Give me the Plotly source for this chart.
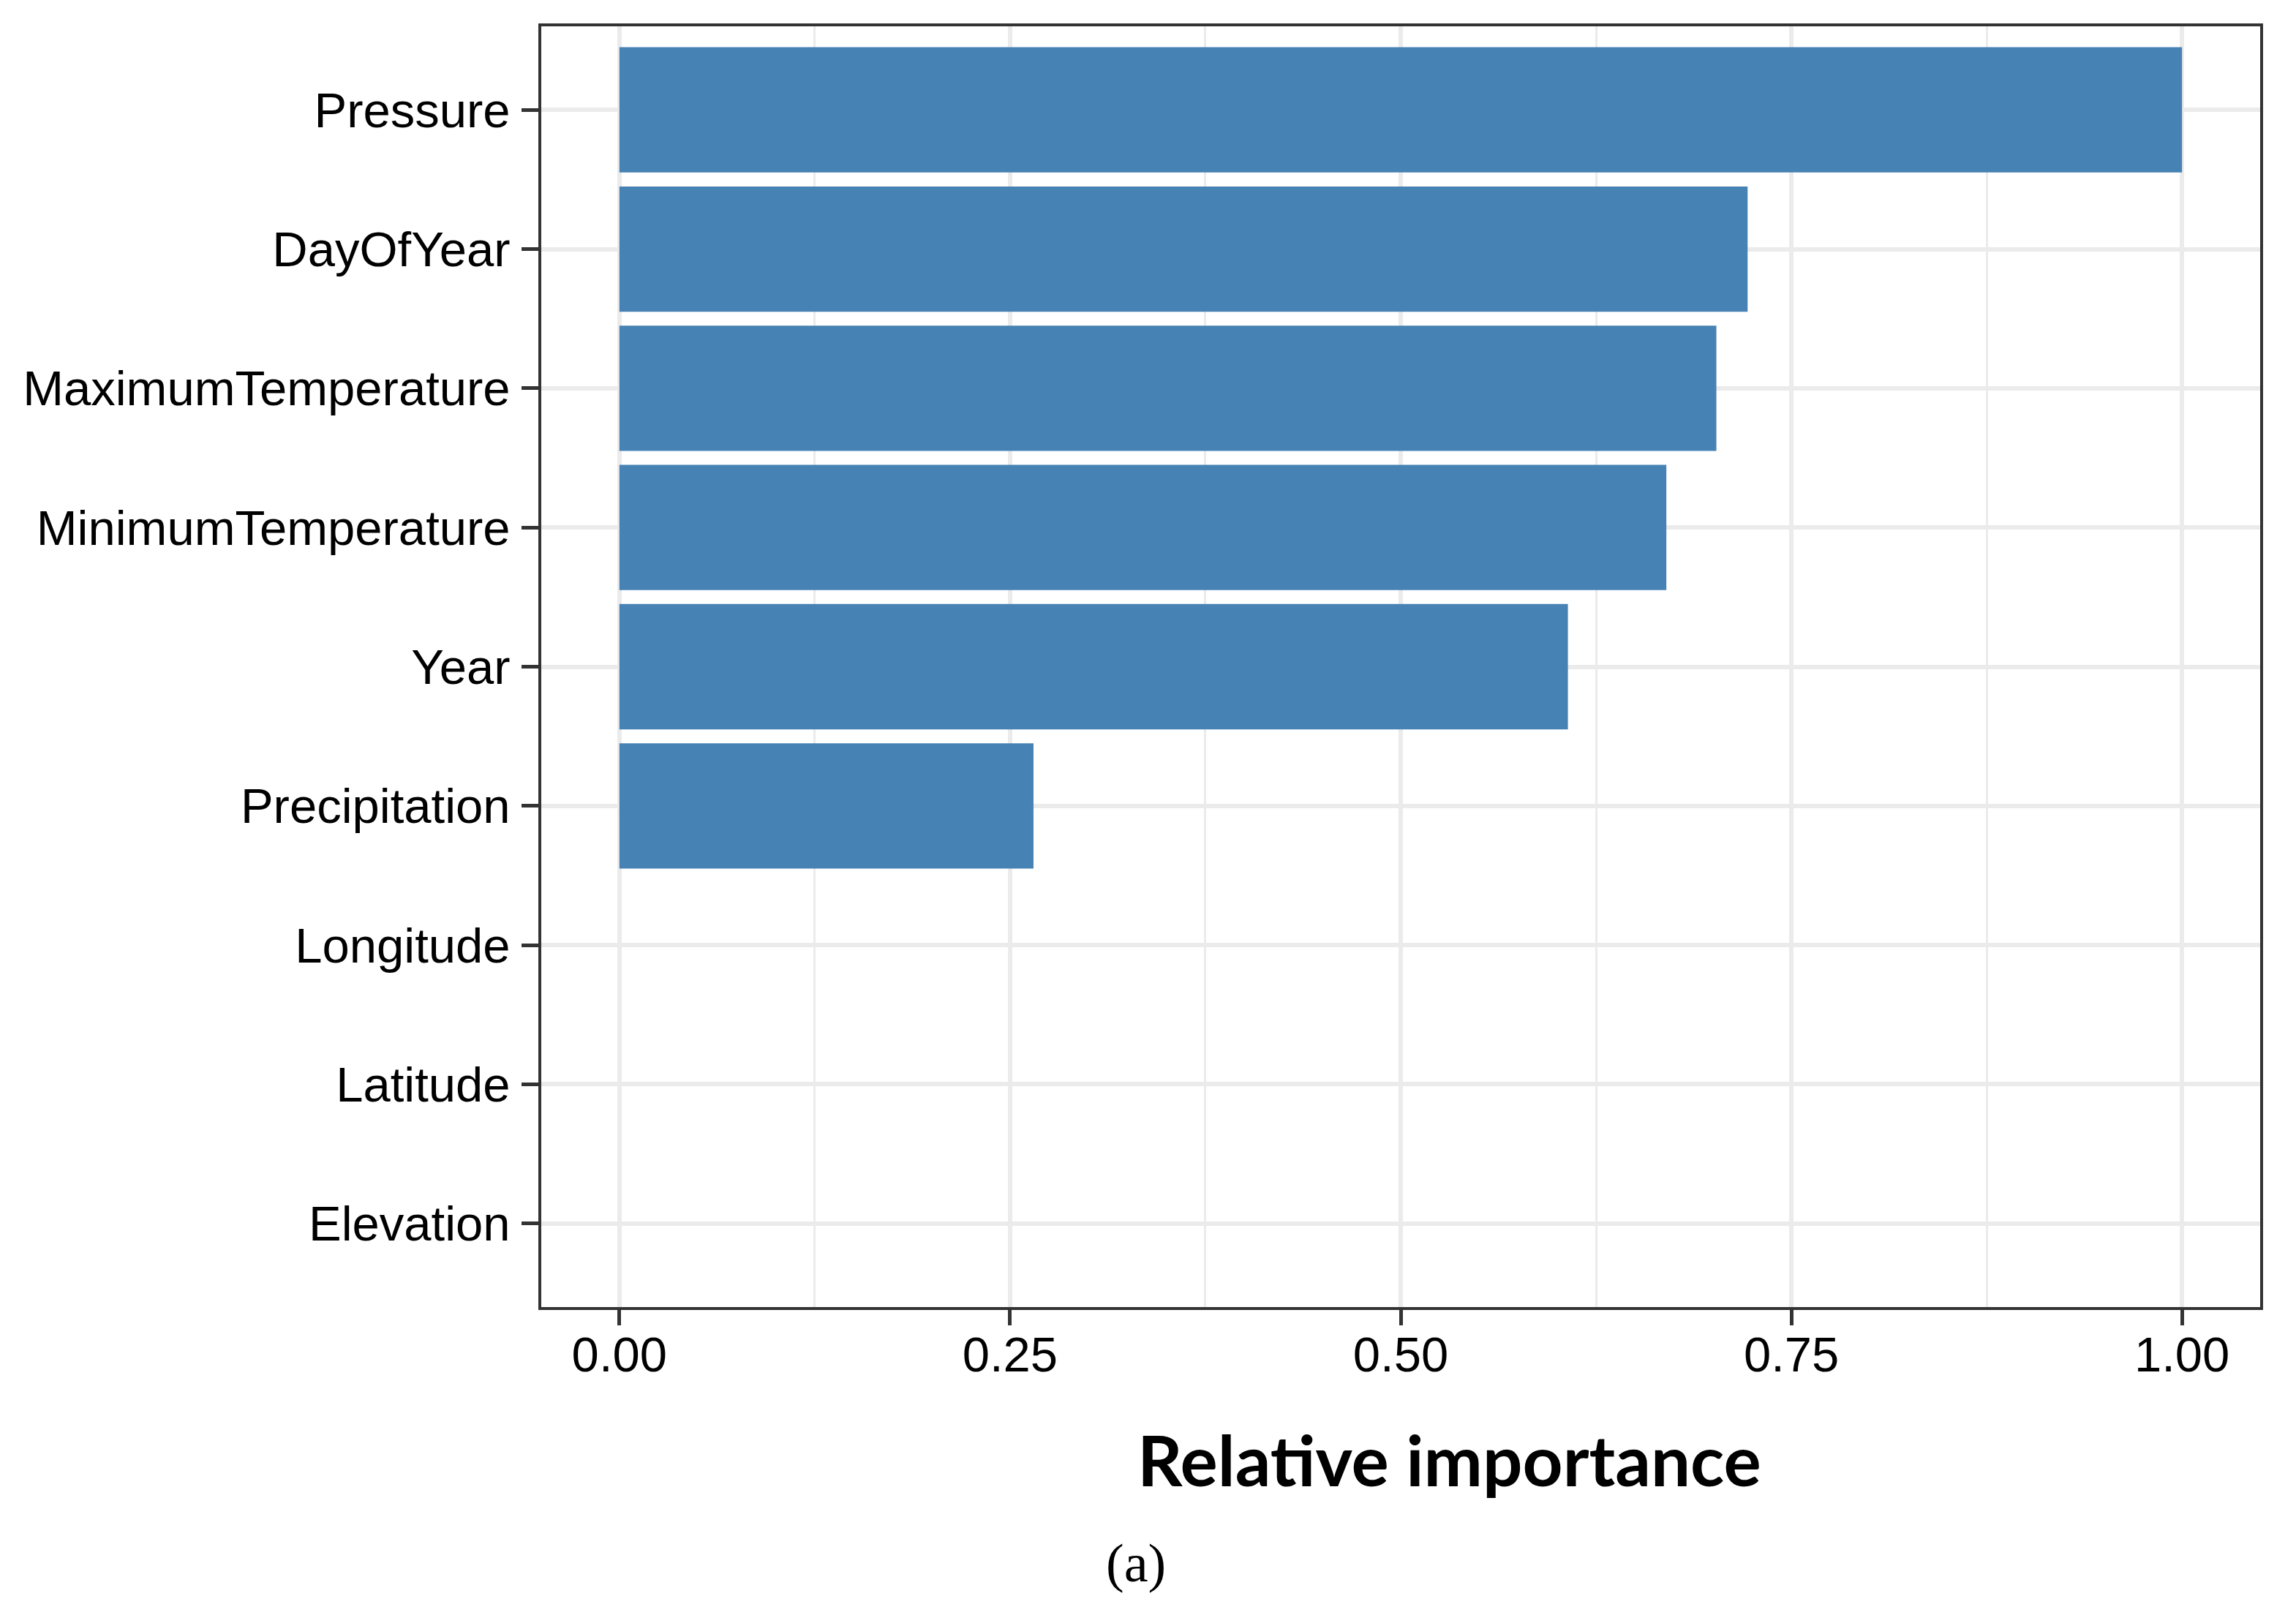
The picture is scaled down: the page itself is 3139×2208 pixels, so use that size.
import plotly.graph_objects as go

# Data (top-to-bottom order as displayed)
features = ["Pressure", "DayOfYear", "MaximumTemperature", "MinimumTemperature",
            "Year", "Precipitation", "Longitude", "Latitude", "Elevation"]
importance = [1.00, 0.722, 0.702, 0.670, 0.607, 0.265, 0.0, 0.0, 0.0]
x_ticks = [0.00, 0.25, 0.50, 0.75, 1.00]
x_tick_labels = ["0.00", "0.25", "0.50", "0.75", "1.00"]

W, H = 3139, 2208
ML, MR, MT, MB = 740, 49, 36, 421

fig = go.Figure()
fig.add_trace(go.Bar(
    x=importance,
    y=features,
    orientation="h",
    width=0.9,
    marker=dict(color="#4682B4", line=dict(width=0)),
    showlegend=False,
))

grid_major = "#EBEBEB"
axis_col = "#333333"

fig.update_layout(
    width=W, height=H,
    margin=dict(l=ML, r=MR, t=MT, b=MB, pad=0),
    paper_bgcolor="white",
    plot_bgcolor="white",
    font=dict(family="Liberation Sans, Arial, sans-serif", size=67, color="black"),
    bargap=0.1,
)

fig.update_xaxes(
    range=[-0.05, 1.05],
    tickvals=x_ticks,
    ticktext=x_tick_labels,
    showgrid=True, gridcolor=grid_major, gridwidth=6,
    minor=dict(tick0=0.125, dtick=0.25, showgrid=True, gridcolor=grid_major, gridwidth=3, ticks=""),
    zeroline=False,
    showline=True, mirror=True, linecolor=axis_col, linewidth=4,
    ticks="outside", ticklen=21, tickwidth=5, tickcolor=axis_col,
    tickfont=dict(size=67, color="black"),
    ticklabelstandoff=-17,
)

fig.update_yaxes(
    type="category",
    categoryorder="array",
    categoryarray=list(reversed(features)),
    range=[-0.6, len(features) - 0.4],
    showgrid=True, gridcolor=grid_major, gridwidth=6,
    zeroline=False,
    showline=True, mirror=True, linecolor=axis_col, linewidth=4,
    ticks="outside", ticklen=23, tickwidth=5, tickcolor=axis_col,
    tickfont=dict(size=67, color="black"),
    ticklabelstandoff=2,
)

plot_w = W - ML - MR
plot_h = H - MT - MB

def px_to_paper_x(px):
    return (px - ML) / plot_w

def px_to_paper_y(py):
    return (H - MB - py) / plot_h

fig.add_annotation(
    text="<b>Relative importance</b>",
    xref="paper", yref="paper",
    x=px_to_paper_x(1981), y=px_to_paper_y(1994),
    xanchor="center", yanchor="middle",
    showarrow=False,
    font=dict(family="Lato, Open Sans, sans-serif", size=96, color="black"),
)

fig.add_annotation(
    text="(a)",
    xref="paper", yref="paper",
    x=px_to_paper_x(1553), y=px_to_paper_y(2137),
    xanchor="center", yanchor="middle",
    showarrow=False,
    font=dict(family="Liberation Serif, Times New Roman, serif", size=74, color="black"),
)

fig.write_html("out.html", config={"displayModeBar": False},
               post_script="document.body.style.margin='0';")
